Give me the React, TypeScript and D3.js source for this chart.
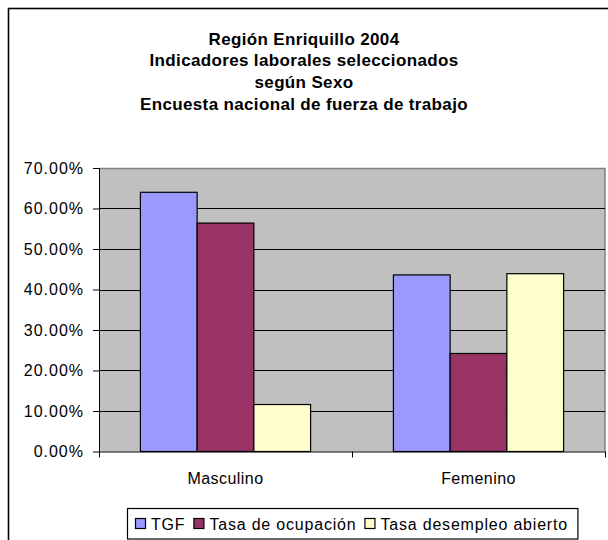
import React, { useEffect, useRef } from "react";
import * as d3 from "d3";

const titleLines = [
  "Región Enriquillo 2004",
  "Indicadores laborales seleccionados",
  "según Sexo",
  "Encuesta nacional de fuerza de trabajo",
];
const categories = ["Masculino", "Femenino"];
const seriesNames = ["TGF", "Tasa de ocupación", "Tasa desempleo abierto"];
const tgf = [0.640, 0.436];
const ocupacion = [0.564, 0.242];
const desempleo = [0.116, 0.439];
const yTicks = [0, 0.1, 0.2, 0.3, 0.4, 0.5, 0.6, 0.7];
const colors = ["#9999FF", "#993366", "#FFFFCC"];

const App = () => {
  const ref = useRef<SVGSVGElement>(null);

  useEffect(() => {
    const svg = d3.select(ref.current);
    svg.selectAll("*").remove();
    const font = "'Liberation Sans', Arial, sans-serif";

    // outer chart border (runs off the right and bottom edge)
    svg.append("rect")
      .attr("x", 8.5).attr("y", 8.5)
      .attr("width", 640).attr("height", 600)
      .attr("fill", "white").attr("stroke", "black").attr("stroke-width", 1.6);

    // title
    svg.append("text")
      .attr("text-anchor", "middle")
      .attr("font-family", font).attr("font-weight", "bold").attr("font-size", 17)
      .attr("letter-spacing", 0.35)
      .selectAll("tspan")
      .data(titleLines)
      .enter()
      .append("tspan")
      .attr("x", 304)
      .attr("y", (d, i) => 44.5 + i * 21.7)
      .text(d => d);

    const left = 99, right = 605, top = 168, bottom = 451.5;

    const y = d3.scaleLinear().domain([0, 0.7]).range([bottom, top]);
    const x0 = d3.scaleBand().domain(categories).range([left, right]);
    const x1 = d3.scaleBand().domain(seriesNames)
      .range([0, x0.bandwidth()]).paddingInner(0).paddingOuter(0.73);

    // plot background
    svg.append("rect")
      .attr("x", left).attr("y", top)
      .attr("width", right - left).attr("height", bottom - top)
      .attr("fill", "#C0C0C0");

    // plot border top / right in gray
    svg.append("path")
      .attr("d", `M${left},${top + 0.5}H${right}V${bottom}`)
      .attr("fill", "none").attr("stroke", "#808080").attr("stroke-width", 1.5);

    // gridlines
    svg.append("g")
      .selectAll("line")
      .data(yTicks.filter(t => t > 0 && t < 0.7))
      .enter()
      .append("line")
      .attr("x1", left).attr("x2", right)
      .attr("y1", d => Math.round(y(d)) + 0.5).attr("y2", d => Math.round(y(d)) + 0.5)
      .attr("stroke", "black").attr("stroke-width", 1);

    // bars
    const data = [tgf, ocupacion, desempleo];
    categories.forEach((cat, ci) => {
      svg.append("g")
        .attr("transform", `translate(${x0(cat)},0)`)
        .selectAll("rect")
        .data(seriesNames.map((s, si) => ({ s, v: data[si][ci], c: colors[si] })))
        .enter()
        .append("rect")
        .attr("x", d => x1(d.s)!)
        .attr("y", d => y(d.v))
        .attr("width", x1.bandwidth())
        .attr("height", d => bottom - y(d.v))
        .attr("fill", d => d.c)
        .attr("stroke", "black").attr("stroke-width", 1.2);
    });

    // y axis
    const yAxis = svg.append("g")
      .attr("transform", `translate(${left},0)`)
      .call(d3.axisLeft(y).tickValues(yTicks).tickSize(6).tickPadding(9)
        .tickFormat(d => d3.format(".2f")((d as number) * 100) + "%"));
    yAxis.select(".domain").attr("d", `M0.5,${top}V${bottom + 5}`).attr("stroke", "black");
    yAxis.selectAll(".tick line").attr("stroke", "black");
    yAxis.selectAll("text")
      .attr("font-family", font).attr("font-size", 16)
      .attr("letter-spacing", 1.0).attr("fill", "black");

    // x axis
    const xAxis = svg.append("g")
      .attr("transform", `translate(0,${bottom})`);
    xAxis.append("line")
      .attr("x1", left).attr("x2", right)
      .attr("y1", 0.5).attr("y2", 0.5).attr("stroke", "black");
    xAxis.selectAll("line.cat")
      .data([left, x0(categories[1])!, right])
      .enter()
      .append("line")
      .attr("class", "cat")
      .attr("x1", d => d + 0.5).attr("x2", d => d + 0.5)
      .attr("y1", 0).attr("y2", 6).attr("stroke", "black");
    xAxis.selectAll("text")
      .data(categories)
      .enter()
      .append("text")
      .attr("x", d => x0(d)! + x0.bandwidth() / 2)
      .attr("y", 32)
      .attr("text-anchor", "middle")
      .attr("font-family", font).attr("font-size", 16).attr("letter-spacing", 0.45)
      .text(d => d);

    // legend
    const legend = svg.append("g");
    const lgBox = legend.append("rect")
      .attr("fill", "white").attr("stroke", "black").attr("stroke-width", 1.2);
    let cx = 135;
    const cy = 523.5;
    seriesNames.forEach((s, i) => {
      legend.append("rect")
        .attr("x", cx + 0.5).attr("y", cy - 5)
        .attr("width", 10).attr("height", 10)
        .attr("fill", colors[i]).attr("stroke", "black").attr("stroke-width", 1.2);
      const t = legend.append("text")
        .attr("x", cx + 16).attr("y", cy + 6)
        .attr("font-family", font).attr("font-size", 16).attr("letter-spacing", 0.8)
        .text(s);
      const w = (t.node() as SVGTextElement).getComputedTextLength();
      cx += 16 + w + 8;
    });
    lgBox.attr("x", 127.5).attr("y", 508.5)
      .attr("width", cx + 2 - 127.5).attr("height", 30.5);
  }, []);

  return (
    <svg
      ref={ref}
      width={608}
      height={540}
      style={{ position: "absolute", left: 0, top: 0, background: "white" }}
    />
  );
};

export default App;
